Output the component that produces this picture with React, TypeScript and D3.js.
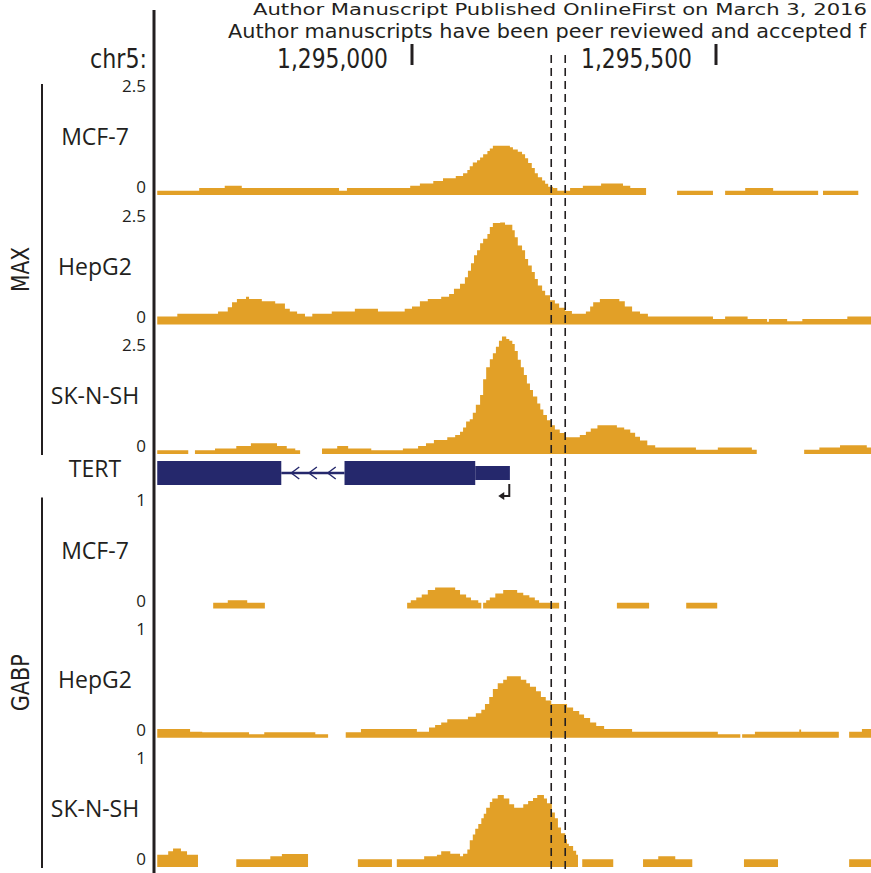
import React from "react";
import * as d3 from "d3";

// Genomic window (chr5), positions in data arrays are bp offsets from regionStart
const regionStart = 1294580;
const axisTicks = [1295000, 1295500];
const highlight = [649, 672]; // dashed lines (bp offsets)

// Signal tracks: [bpOffset, value | null(gap)], last entry marks the end
const maxMcf7: [number, number | null][] = [
  [1, 0.09], [70, 0.15], [112, 0.2], [140, 0.15], [300, 0.09], [313, 0.15], [417, 0.2], [433, 0.25],
  [455, 0.3], [471, 0.36], [492, 0.41], [504, 0.47], [511, 0.54], [515, 0.62], [520, 0.7], [527, 0.75],
  [532, 0.81], [537, 0.88], [544, 0.95], [548, 1.0], [553, 1.06], [581, 1.03], [586, 0.98], [594, 0.93],
  [601, 0.88], [606, 0.79], [611, 0.69], [617, 0.58], [622, 0.47], [627, 0.38], [634, 0.31], [639, 0.24],
  [644, 0.18], [652, 0.15], [659, 0.09], [680, 0.15], [701, 0.2], [731, 0.25], [767, 0.2], [779, 0.15],
  [805, null], [856, 0.09], [915, null], [935, 0.09], [968, 0.15], [1014, 0.09], [1088, null], [1096, 0.09],
  [1154, null], [1180, null],
];
const maxHepg2: [number, number | null][] = [
  [1, 0.17], [34, 0.23], [101, 0.28], [117, 0.37], [124, 0.48], [132, 0.55], [147, 0.6], [152, 0.55],
  [173, 0.5], [195, 0.45], [211, 0.34], [219, 0.28], [231, 0.23], [244, 0.17], [256, 0.23], [288, 0.28],
  [326, 0.34], [364, 0.28], [408, 0.34], [420, 0.39], [433, 0.5], [446, 0.55], [468, 0.6], [481, 0.66],
  [489, 0.77], [499, 0.88], [507, 1.02], [512, 1.16], [517, 1.32], [522, 1.49], [527, 1.6], [532, 1.75],
  [537, 1.85], [544, 1.95], [548, 2.1], [553, 2.19], [565, 2.2], [573, 2.15], [585, 2.03], [589, 1.88],
  [594, 1.7], [601, 1.6], [606, 1.41], [611, 1.27], [617, 1.13], [622, 0.98], [627, 0.84], [634, 0.73],
  [639, 0.63], [647, 0.52], [655, 0.45], [662, 0.36], [672, 0.29], [683, 0.23], [706, 0.28], [713, 0.39],
  [718, 0.48], [729, 0.55], [761, 0.5], [770, 0.39], [782, 0.28], [795, 0.23], [808, 0.17], [915, 0.12],
  [935, 0.17], [972, 0.12], [1004, 0.06], [1007, 0.12], [1037, 0.07], [1062, 0.12], [1136, 0.17],
  [1180, null],
];
const maxSknsh: [number, number | null][] = [
  [1, 0.08], [52, null], [63, 0.08], [96, 0.12], [131, 0.17], [155, 0.23], [198, 0.17], [214, 0.12],
  [228, 0.08], [236, null], [272, 0.12], [297, 0.17], [315, 0.12], [353, 0.08], [405, 0.12], [430, 0.17],
  [443, 0.23], [456, 0.3], [478, 0.36], [491, 0.41], [499, 0.48], [504, 0.57], [509, 0.7], [515, 0.75],
  [520, 0.89], [525, 1.06], [532, 1.27], [537, 1.61], [542, 1.87], [548, 2.04], [553, 2.17], [558, 2.31],
  [563, 2.44], [568, 2.53], [575, 2.48], [580, 2.44], [585, 2.37], [589, 2.22], [594, 2.03], [599, 1.87],
  [604, 1.7], [609, 1.52], [614, 1.38], [619, 1.24], [626, 1.09], [631, 0.96], [636, 0.84], [642, 0.73],
  [649, 0.62], [655, 0.53], [663, 0.45], [672, 0.36], [696, 0.41], [706, 0.48], [714, 0.55], [725, 0.62],
  [757, 0.57], [769, 0.53], [779, 0.46], [787, 0.37], [795, 0.29], [807, 0.19], [820, 0.14], [887, 0.09],
  [923, 0.14], [979, 0.09], [987, null], [1065, 0.09], [1090, 0.14], [1124, 0.19], [1168, 0.14],
  [1180, null],
];
const gabpMcf7: [number, number | null][] = [
  [93, 0.05], [117, 0.072], [149, 0.05], [178, null], [412, 0.05], [418, 0.072], [427, 0.095], [436, 0.12],
  [446, 0.16], [458, 0.18], [491, 0.16], [499, 0.12], [509, 0.095], [517, 0.072], [529, 0.05], [534, null],
  [537, 0.05], [542, 0.072], [548, 0.095], [557, 0.13], [570, 0.16], [593, 0.135], [603, 0.115],
  [613, 0.095], [622, 0.072], [629, 0.05], [662, null], [757, 0.05], [810, null], [871, 0.05], [922, null],
  [1180, null],
];
const gabpHepg2: [number, number | null][] = [
  [1, 0.075], [55, 0.052], [75, 0.046], [152, 0.03], [177, 0.046], [261, 0.03], [282, null], [311, 0.046],
  [336, 0.075], [428, 0.052], [448, 0.089], [458, 0.11], [468, 0.13], [478, 0.16], [512, 0.18], [525, 0.21],
  [534, 0.24], [540, 0.29], [547, 0.35], [553, 0.42], [561, 0.47], [570, 0.5], [576, 0.53], [599, 0.5],
  [608, 0.47], [614, 0.44], [624, 0.4], [632, 0.35], [640, 0.32], [649, 0.29], [675, 0.26], [685, 0.23],
  [695, 0.2], [703, 0.17], [713, 0.13], [723, 0.1], [736, 0.075], [782, 0.052], [923, 0.03], [960, null],
  [963, 0.03], [984, 0.052], [1057, 0.07], [1060, 0.052], [1122, null], [1139, 0.052], [1160, 0.075],
  [1180, null],
];
const gabpSknsh: [number, number | null][] = [
  [1, 0.106], [19, 0.135], [27, 0.16], [40, 0.135], [50, 0.106], [68, null], [131, 0.066], [187, 0.092],
  [206, 0.112], [249, null], [331, 0.066], [387, null], [395, 0.066], [440, 0.092], [461, 0.106],
  [468, 0.135], [483, 0.115], [499, 0.092], [504, 0.115], [511, 0.15], [515, 0.23], [520, 0.28],
  [524, 0.33], [529, 0.37], [534, 0.42], [538, 0.46], [542, 0.51], [548, 0.56], [552, 0.59], [561, 0.62],
  [571, 0.59], [580, 0.54], [588, 0.51], [603, 0.54], [611, 0.57], [619, 0.595], [626, 0.62], [637, 0.59],
  [642, 0.55], [650, 0.47], [655, 0.42], [660, 0.34], [665, 0.29], [672, 0.24], [675, 0.2], [678, 0.18],
  [685, 0.14], [690, 0.106], [693, null], [700, 0.066], [751, null], [800, 0.066], [825, 0.092],
  [853, 0.066], [881, null], [966, 0.066], [1022, null], [1139, 0.066], [1180, null],
];

// Gene model (TERT, minus strand)
const geneExons: [number, number][] = [[1, 205], [309, 524]];
const geneUtr: [number, number][] = [[524, 581]];
const geneIntron: [number, number] = [205, 309];
const intronChevrons = [228, 257, 288];
const geneTss = 580;

const cellLines = ["MCF-7", "HepG2", "SK-N-SH"];
const maxTracks = [maxMcf7, maxHepg2, maxSknsh];
const gabpTracks = [gabpMcf7, gabpHepg2, gabpSknsh];
const factors = ["MAX", "GABP"];
const factorTextLen = [45, 57];
const factorMax = [2.5, 1];
const factorMaxLabel = ["2.5", "1"];
const headerLines = [
  "Author Manuscript Published OnlineFirst on March 3, 2016",
  "Author manuscripts have been peer reviewed and accepted f",
];

const ORANGE = "#e2a027";
const NAVY = "#25286c";
const INK = "#231f20";
const LABEL_FONT = "'Open Sans', 'Noto Sans', sans-serif";
const NARROW_FONT = "'Liberation Sans Narrow', 'Arial Narrow', 'DejaVu Sans Condensed', sans-serif";

const W = 871;
const H = 873;
const TRACK_H = 116;
const baselinesMax = [195, 324.5, 454];
const baselinesGabp = [608.5, 737.7, 867];

const x = d3.scaleLinear().domain(axisTicks).range([412, 716]);
const gx = (off: number) => x(regionStart + off);

type Pt = { p: number; v: number | null };
function toPoints(segs: [number, number | null][]): Pt[] {
  const pts: Pt[] = [];
  for (let i = 0; i < segs.length - 1; i++) {
    const [s, v] = segs[i];
    if (v == null) {
      pts.push({ p: s, v: null });
      continue;
    }
    pts.push({ p: s, v });
    const [ns, nv] = segs[i + 1];
    if (nv == null) pts.push({ p: ns, v });
  }
  return pts;
}

function Track({ data, baseline, max, maxLabel, name }: any) {
  const y = d3.scaleLinear().domain([0, max]).range([baseline, baseline - TRACK_H]);
  const area = d3
    .area<Pt>()
    .defined((d) => d.v != null)
    .x((d) => gx(d.p))
    .y0(baseline)
    .y1((d) => y(d.v as number))
    .curve(d3.curveStepAfter);
  return (
    <g>
      <path d={area(toPoints(data)) || ""} fill={ORANGE} />
      <text x={146} y={y(max)} dy="0.78em" textAnchor="end" fontFamily={LABEL_FONT} fontSize={17} fill={INK}>
        {maxLabel}
      </text>
      <text x={146} y={baseline - 2} textAnchor="end" fontFamily={LABEL_FONT} fontSize={17} fill={INK}>
        0
      </text>
      <text x={95} y={baseline - 58} dy="0.36em" textAnchor="middle" fontFamily={LABEL_FONT} fontSize={23} fill={INK}>
        {name}
      </text>
    </g>
  );
}

export default function App() {
  const geneY = 473;
  const tssX = gx(geneTss);
  return (
    <svg width={W} height={H} style={{ position: "absolute", left: 0, top: 0, display: "block", background: "#fff" }}>
      {/* watermark header */}
      <text x={253} y={15} fontFamily={NARROW_FONT} fontSize={16} fill={INK} textLength={614} lengthAdjust="spacingAndGlyphs">
        {headerLines[0]}
      </text>
      <text x={228} y={38} fontFamily={NARROW_FONT} fontSize={20} fill={INK} textLength={638} lengthAdjust="spacingAndGlyphs">
        {headerLines[1]}
      </text>

      {/* coordinate ruler */}
      <text x={147} y={68} textAnchor="end" fontFamily={NARROW_FONT} fontSize={26} fill={INK} textLength={57} lengthAdjust="spacingAndGlyphs">
        chr5:
      </text>
      {axisTicks.map((t) => (
        <g key={t}>
          <line x1={x(t)} x2={x(t)} y1={44} y2={65} stroke={INK} strokeWidth={3} />
          <text x={x(t) - 24} y={68} textAnchor="end" fontFamily={NARROW_FONT} fontSize={26} fill={INK} textLength={111} lengthAdjust="spacingAndGlyphs">
            {d3.format(",")(t)}
          </text>
        </g>
      ))}

      {/* tracks */}
      {maxTracks.map((d, i) => (
        <Track key={"m" + i} data={d} baseline={baselinesMax[i]} max={factorMax[0]} maxLabel={factorMaxLabel[0]} name={cellLines[i]} />
      ))}
      {gabpTracks.map((d, i) => (
        <Track key={"g" + i} data={d} baseline={baselinesGabp[i]} max={factorMax[1]} maxLabel={factorMaxLabel[1]} name={cellLines[i]} />
      ))}

      {/* gene model */}
      <text x={95} y={geneY - 4} dy="0.36em" textAnchor="middle" fontFamily={LABEL_FONT} fontSize={23} fill={INK}>
        TERT
      </text>
      <line x1={gx(geneIntron[0])} x2={gx(geneIntron[1])} y1={geneY} y2={geneY} stroke={NAVY} strokeWidth={2.5} />
      {intronChevrons.map((c) => (
        <path key={c} d={`M${gx(c) + 4},${geneY - 6} L${gx(c) - 4},${geneY} L${gx(c) + 4},${geneY + 6}`} fill="none" stroke={NAVY} strokeWidth={1.4} />
      ))}
      {geneExons.map(([s, e]) => (
        <rect key={s} x={gx(s)} y={geneY - 12} width={gx(e) - gx(s)} height={24} fill={NAVY} />
      ))}
      {geneUtr.map(([s, e]) => (
        <rect key={s} x={gx(s)} y={geneY - 7} width={gx(e) - gx(s)} height={14} fill={NAVY} />
      ))}
      <path d={`M${tssX},${geneY + 11} V${geneY + 23} H${tssX - 7}`} fill="none" stroke={INK} strokeWidth={2} />
      <path d={`M${tssX - 11},${geneY + 23} L${tssX - 5},${geneY + 19} L${tssX - 5},${geneY + 27} Z`} fill={INK} />

      {/* highlight dashed lines */}
      {highlight.map((h) => (
        <line key={h} x1={gx(h)} x2={gx(h)} y1={55} y2={H} stroke={INK} strokeWidth={1.6} strokeDasharray="8,5" />
      ))}

      {/* main left axis */}
      <line x1={154} x2={154} y1={10} y2={H} stroke={INK} strokeWidth={3} />

      {/* factor brackets */}
      {factors.map((f, i) => {
        const b = i === 0 ? baselinesMax : baselinesGabp;
        const top = b[0] - TRACK_H + 5;
        const bot = b[2] + 1;
        return (
          <g key={f}>
            <line x1={42} x2={42} y1={top} y2={bot} stroke={INK} strokeWidth={2} />
            <text
              transform={`translate(29,${(top + bot) / 2}) rotate(-90)`}
              textAnchor="middle"
              fontFamily={NARROW_FONT}
              fontSize={25}
              fill={INK}
              textLength={factorTextLen[i]}
              lengthAdjust="spacingAndGlyphs"
            >
              {f}
            </text>
          </g>
        );
      })}
    </svg>
  );
}
